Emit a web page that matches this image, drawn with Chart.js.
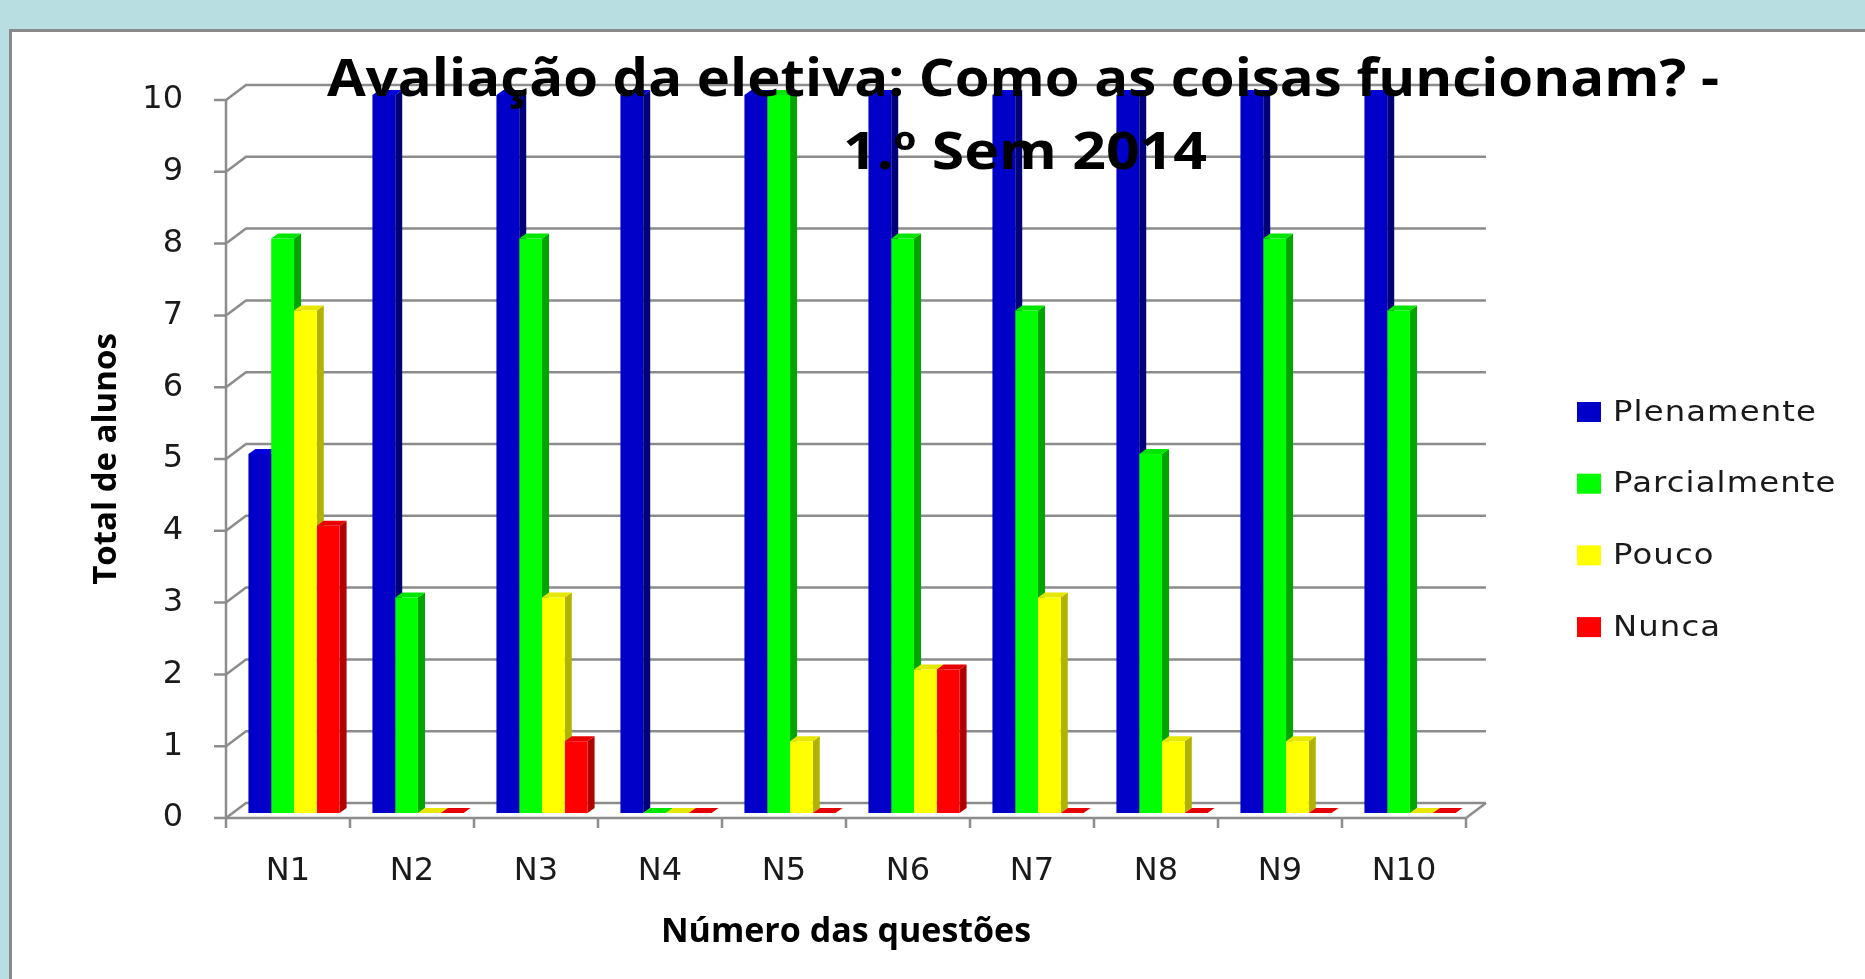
<!DOCTYPE html>
<html>
<head>
<meta charset="utf-8">
<script src="https://cdn.jsdelivr.net/npm/chart.js@4/dist/chart.umd.min.js"></script>
<style>
  body { margin: 0; background: #b9dee2; }
</style>
</head>
<body>
<canvas id="chart" width="1865" height="979"></canvas>
<script>
// data
const questions = ["N1", "N2", "N3", "N4", "N5", "N6", "N7", "N8", "N9", "N10"];
const plenamente = [5, 10, 10, 10, 10, 10, 10, 10, 10, 10];
const parcialmente = [8, 3, 8, 0, 10, 8, 7, 5, 8, 7];
const pouco = [7, 0, 3, 0, 1, 2, 3, 1, 1, 0];
const nunca = [4, 0, 1, 0, 0, 2, 0, 0, 0, 0];
const seriesNames = ["Plenamente", "Parcialmente", "Pouco", "Nunca"];
const yTicks = [0, 1, 2, 3, 4, 5, 6, 7, 8, 9, 10];

const titleLines = ["Avaliação da eletiva: Como as coisas funcionam? -", "1.º Sem 2014"];

const frontColors = ["#0000c8", "#00ff00", "#ffff00", "#ff0000"];
const sideColors = ["#000078", "#00a600", "#b2b200", "#b00000"];
const topColors = ["#0000dc", "#00e600", "#e6e600", "#e60000"];

// fake 3d: back wall offset, bar offset into the depth, bar depth
const DX = 20, DY = 15;
const BX = 6, BY = -5;
const BAR_DX = 7, BAR_DY = 5;

const threeD = {
  id: "threeD",
  beforeDraw(chart) {
    const { ctx, width, height } = chart;
    ctx.save();
    ctx.fillStyle = "#b9dee2";
    ctx.fillRect(0, 0, width, height);
    ctx.fillStyle = "#ffffff";
    ctx.fillRect(10, 30, width, height);
    ctx.strokeStyle = "#8a8a8a";
    ctx.lineWidth = 3;
    ctx.beginPath();
    ctx.moveTo(10.5, height + 5);
    ctx.lineTo(10.5, 30.5);
    ctx.lineTo(width + 5, 30.5);
    ctx.stroke();
    ctx.restore();
  },
  beforeDatasetsDraw(chart) {
    const { ctx, chartArea: a, scales: { x, y } } = chart;
    ctx.save();
    ctx.strokeStyle = "#8c8c8c";
    ctx.lineWidth = 2.5;

    // grid on the back wall + side wall diagonals + y tick marks
    yTicks.forEach(v => {
      const py = y.getPixelForValue(v);
      ctx.beginPath();
      ctx.moveTo(a.left - 12, py);
      ctx.lineTo(a.left, py);
      ctx.lineTo(a.left + DX, py - DY);
      ctx.lineTo(a.right + DX, py - DY);
      ctx.stroke();
    });

    // front axes and floor edge
    ctx.beginPath();
    ctx.moveTo(a.left, y.getPixelForValue(10));
    ctx.lineTo(a.left, a.bottom);
    ctx.lineTo(a.right, a.bottom);
    ctx.lineTo(a.right + DX, a.bottom - DY);
    ctx.stroke();

    // x tick marks between categories
    for (let i = 0; i <= questions.length; i++) {
      const px = x.getPixelForValue(i - 0.5);
      ctx.beginPath();
      ctx.moveTo(px, a.bottom);
      ctx.lineTo(px, a.bottom + 10);
      ctx.stroke();
    }

    // side and top faces, the library draws the front faces on top
    ctx.translate(BX, BY);
    questions.forEach((q, i) => {
      chart.data.datasets.forEach((ds, d) => {
        const bar = chart.getDatasetMeta(d).data[i];
        const l = bar.x - bar.width / 2;
        const r = bar.x + bar.width / 2;
        ctx.fillStyle = sideColors[d];
        ctx.beginPath();
        ctx.moveTo(r, bar.y);
        ctx.lineTo(r + BAR_DX, bar.y - BAR_DY);
        ctx.lineTo(r + BAR_DX, bar.base - BAR_DY);
        ctx.lineTo(r, bar.base);
        ctx.closePath();
        ctx.fill();
        ctx.fillStyle = topColors[d];
        ctx.beginPath();
        ctx.moveTo(l, bar.y);
        ctx.lineTo(l + BAR_DX, bar.y - BAR_DY);
        ctx.lineTo(r + BAR_DX, bar.y - BAR_DY);
        ctx.lineTo(r, bar.y);
        ctx.closePath();
        ctx.fill();
      });
    });
  },
  afterDatasetsDraw(chart) {
    chart.ctx.restore();
  },
  afterDraw(chart) {
    const ctx = chart.ctx;
    ctx.save();

    // title, squeezed like the original
    ctx.fillStyle = "#000000";
    ctx.font = 'bold 52px "Open Sans"';
    ctx.textAlign = "center";
    ctx.textBaseline = "alphabetic";
    [[1023, 96, 1392], [1025, 169, 364]].forEach(([cx, by, w], k) => {
      const sx = w / ctx.measureText(titleLines[k]).width;
      ctx.save();
      ctx.translate(cx, by);
      ctx.scale(sx, 1);
      ctx.fillText(titleLines[k], 0, 0);
      ctx.restore();
    });

    // legend, text stretched wide like the original
    ctx.font = '29px "DejaVu Sans"';
    ctx.textAlign = "left";
    ctx.textBaseline = "middle";
    ctx.letterSpacing = "1px";
    const lx = 204 / ctx.measureText(seriesNames[0]).width;
    chart.data.datasets.forEach((ds, d) => {
      const cy = 412 + d * 71.7;
      ctx.fillStyle = frontColors[d];
      ctx.fillRect(1577, cy - 10, 24, 20);
      ctx.fillStyle = "#1a1a1a";
      ctx.save();
      ctx.translate(1613, cy + 1);
      ctx.scale(lx, 1);
      ctx.fillText(ds.label, 0, 0);
      ctx.restore();
    });
    ctx.restore();
  }
};

const seriesValues = [plenamente, parcialmente, pouco, nunca];

new Chart(document.getElementById("chart"), {
  type: "bar",
  data: {
    labels: questions,
    datasets: seriesNames.map((name, d) => ({
      label: name,
      data: seriesValues[d],
      backgroundColor: frontColors[d],
      borderWidth: 0,
      categoryPercentage: 0.735,
      barPercentage: 1.0,
      clip: false
    }))
  },
  options: {
    responsive: false,
    animation: false,
    layout: { padding: { left: 87, top: 100, right: 399, bottom: 0 } },
    plugins: {
      legend: { display: false },
      title: { display: false },
      tooltip: { enabled: false }
    },
    scales: {
      x: {
        grid: { display: false, drawTicks: false },
        border: { display: false },
        ticks: { padding: 34, color: "#1a1a1a", font: { family: "DejaVu Sans", size: 32 } },
        title: {
          display: true,
          text: "Número das questões",
          color: "#000000",
          font: { family: "Open Sans", size: 34, weight: "bold" },
          padding: { top: 0, bottom: 26 }
        },
        afterFit(s) { s.height = 161; }
      },
      y: {
        min: 0,
        max: 10,
        grid: { display: false, drawTicks: false },
        border: { display: false },
        ticks: { stepSize: 1, padding: 43, color: "#1a1a1a", font: { family: "DejaVu Sans", size: 32 } },
        title: {
          display: true,
          text: "Total de alunos",
          color: "#000000",
          font: { family: "Open Sans", size: 33, weight: "bold" },
          padding: { top: 0, bottom: 0 }
        },
        afterFit(s) { s.width = 139; }
      }
    }
  },
  plugins: [threeD]
});
</script>
</body>
</html>
